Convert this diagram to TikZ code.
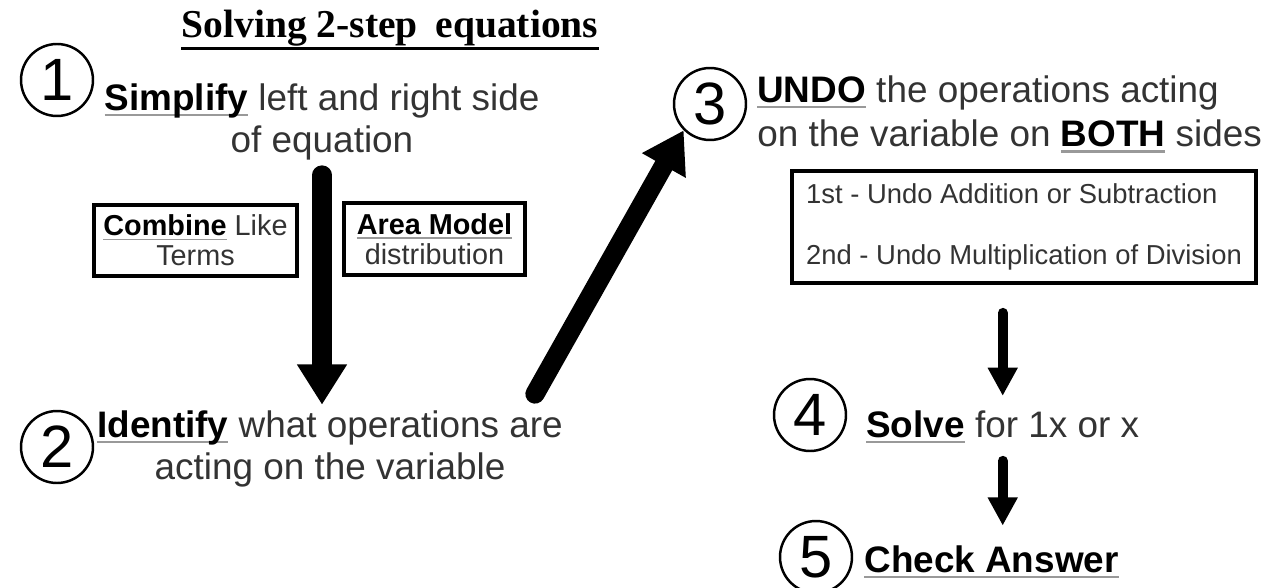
\documentclass[tikz,border=0pt]{standalone}
\usepackage{fontspec}
\setmainfont{Liberation Sans}
\newfontfamily\titlefont{Liberation Serif}
\usepackage{tikz}
\usetikzlibrary{arrows.meta}

% bold key word with a grey underline
\newsavebox\kwbox
\newcommand{\kw}[1]{\sbox\kwbox{\bfseries\color{black}#1}\rlap{\color{black!40}\rule[-0.16em]{\wd\kwbox}{0.06em}}\usebox\kwbox}

\begin{document}
\begin{tikzpicture}[x=0.02cm, y=-0.02cm,
  numcirc/.style={circle, draw, line width=1.4pt, minimum size=1.44cm,
                  inner sep=0pt, font=\fontsize{34}{34}\selectfont},
  steptext/.style={inner sep=0pt, align=center, text=black!80,
                   font=\fontsize{21}{24.4}\selectfont},
  box/.style={draw, line width=2pt, inner sep=0pt, align=center,
              text=black!80, font=\fontsize{16.4}{17}\selectfont},
  bigarr/.style={-{Triangle[width=27pt, length=23pt]}, line width=11pt, line cap=round},
  smallarr/.style={-{Triangle[width=16pt, length=16pt]}, line width=5.7pt, line cap=round}
]
  \clip (0,0) rectangle (1288,588);

  % title
  \node[inner sep=0pt, anchor=base, font=\titlefont\bfseries\fontsize{22.5}{24}\selectfont]
    (title) at (390,38) {Solving 2-step\hspace{0.2em} equations};
  \draw[line width=1.7pt] ([yshift=-6pt]title.base west) -- ([yshift=-6pt]title.base east);

  % step 1
  \node[numcirc] (c1) at (57,80) {1};
  \node[steptext, anchor=north] (simplify) at (322,83)
    {\kw{Simplify} left and right side\\of equation};
  \node[box, minimum width=4.06cm, minimum height=1.42cm] (combine) at (195.5,240.5)
    {\kw{Combine} Like\\Terms};
  \node[box, minimum width=3.62cm, minimum height=1.44cm] (area) at (434.5,239)
    {\kw{Area Model}\\distribution};

  % step 2
  \node[numcirc] (c2) at (57,447) {2};
  \node[steptext, anchor=north] (identify) at (330,410)
    {\kw{Identify} what operations are\\acting on the variable};

  % step 3
  \node[numcirc] (c3) at (710,104) {3};
  \node[steptext, align=left, anchor=north west] (undo) at (757,75)
    {\kw{UNDO} the operations acting\\[1pt]on the variable on \kw{BOTH} sides};
  \node[box, minimum width=9.28cm, minimum height=2.24cm, align=left,
        font=\fontsize{15.6}{34.6}\selectfont] (order) at (1024,227)
    {1st - Undo Addition or Subtraction\\2nd - Undo Multiplication of Division};

  % step 4 and 5
  \node[numcirc] (c4) at (810,415) {4};
  \node[steptext, anchor=base west] (solve) at (866,437) {\kw{Solve} for 1x or x};
  \node[numcirc] (c5) at (816,557) {5};
  \node[steptext, anchor=base west] (check) at (864,572) {\kw{Check Answer}};

  % arrows
  \coordinate (tail) at (535,394);
  \draw[bigarr, shorten <=8pt, shorten >=3pt] (simplify.south) -- (simplify.south |- identify.north);
  \draw[bigarr] (tail) -- (c3.south west);
  \draw[smallarr, shorten <=16pt, shorten >=8pt] (solve.north |- order.south) -- (solve.north);
  \draw[smallarr, shorten <=10pt, shorten >=11pt] (solve.south) -- (solve.south |- check.north);
\end{tikzpicture}
\end{document}
